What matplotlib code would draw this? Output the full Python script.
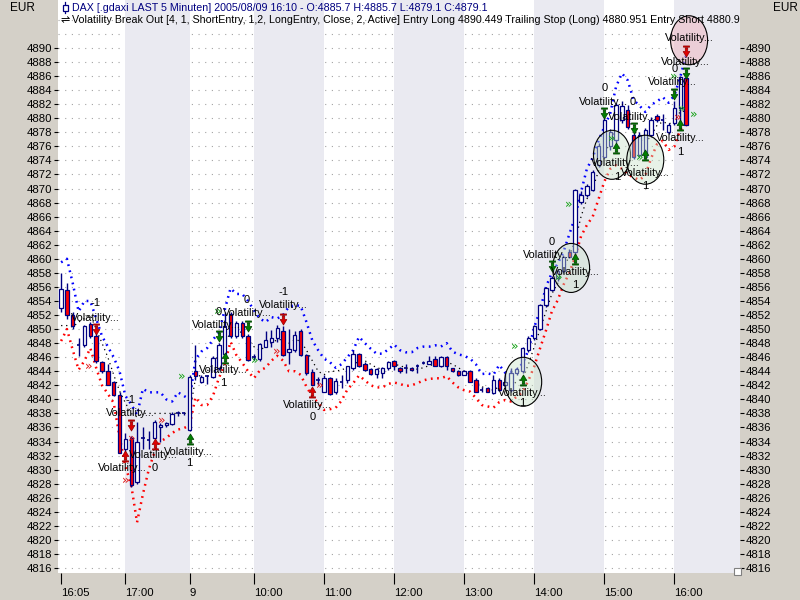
import matplotlib
matplotlib.use('Agg')
import matplotlib.pyplot as plt
from matplotlib.patches import Rectangle, Ellipse
from matplotlib.path import Path
import matplotlib.lines as mlines

plt.rcParams['font.family'] = ['Liberation Sans', 'DejaVu Sans']

# ---------------- data ----------------
time_labels = ['16:05', '17:00', '9', '10:00', '11:00', '12:00', '13:00', '14:00', '15:00', '16:00']
time_label_bars = [0, 11, 22, 33, 45, 57, 69, 81, 93, 105]

opens = [4853.0, 4855.6, 4852.0, 4847.8, 4847.8, 4850.7, 4849.0, 4845.3, 4844.0, 4842.4,
         4840.6, 4833.0, 4834.5, 4828.3, 4834.5, 4834.2, 4834.5, 4836.1, 4836.3, 4836.5,
         4838.0, 4838.0, 4835.7, 4844.0, 4842.5, 4843.3, 4843.2, 4844.4, 4846.5, 4852.2,
         4849.0, 4850.9, 4849.0, 4846.0, 4845.7, 4847.5, 4848.2, 4848.7, 4849.7, 4846.8,
         4847.0, 4849.7, 4846.3, 4843.9, 4842.8, 4841.1, 4843.0, 4841.0, 4842.5, 4842.8,
         4844.4, 4846.4, 4845.1, 4844.3, 4843.6, 4843.7, 4844.4, 4845.4, 4844.4, 4844.4,
         4844.4, 4844.7, 4845.2, 4845.0, 4845.7, 4844.8, 4846.0, 4844.4, 4844.0, 4843.5,
         4844.0, 4842.8, 4841.4, 4841.6, 4840.9, 4842.8, 4842.0, 4841.4, 4843.8, 4844.0,
         4847.0, 4848.7, 4850.0, 4853.4, 4855.6, 4857.2, 4858.2, 4861.0, 4861.0, 4868.1,
         4869.1, 4869.8, 4873.4, 4874.5, 4876.0, 4876.9, 4879.8, 4881.2, 4877.6, 4874.8,
         4874.5, 4877.6, 4880.3, 4879.8, 4878.1, 4879.3, 4881.5, 4885.7]
highs = [4858.0, 4856.5, 4852.5, 4848.7, 4850.6, 4851.0, 4849.5, 4845.5, 4845.0, 4842.6,
         4841.0, 4835.2, 4834.8, 4836.8, 4836.0, 4835.5, 4837.0, 4836.6, 4836.8, 4838.2,
         4838.3, 4838.2, 4843.4, 4847.8, 4843.5, 4843.4, 4846.2, 4848.0, 4852.5, 4852.4,
         4851.2, 4851.2, 4849.3, 4846.4, 4848.0, 4849.7, 4849.8, 4850.6, 4850.4, 4850.0,
         4849.7, 4850.0, 4846.5, 4844.3, 4843.2, 4843.5, 4843.2, 4843.0, 4843.5, 4844.8,
         4847.0, 4846.6, 4845.3, 4844.5, 4844.5, 4844.6, 4845.5, 4845.6, 4844.6, 4845.1,
         4844.6, 4845.1, 4845.5, 4846.1, 4846.1, 4846.2, 4846.2, 4844.5, 4844.2, 4844.2,
         4844.2, 4843.0, 4841.8, 4841.8, 4843.4, 4843.0, 4843.8, 4844.5, 4844.6, 4847.5,
         4849.0, 4850.6, 4853.6, 4856.0, 4857.5, 4858.5, 4860.6, 4861.4, 4870.0, 4869.6,
         4870.6, 4872.6, 4876.5, 4880.0, 4878.5, 4882.2, 4882.5, 4881.9, 4878.2, 4878.0,
         4878.6, 4880.2, 4880.6, 4880.6, 4879.3, 4882.5, 4886.0, 4885.7]
lows = [4852.5, 4851.5, 4850.0, 4846.1, 4847.5, 4848.8, 4845.2, 4843.8, 4842.0, 4840.5,
        4832.3, 4832.5, 4827.5, 4828.0, 4833.0, 4833.0, 4834.3, 4834.0, 4836.0, 4836.3,
        4837.7, 4837.8, 4835.5, 4842.8, 4842.3, 4842.2, 4843.0, 4844.2, 4846.0, 4848.8,
        4848.8, 4848.8, 4845.4, 4845.6, 4845.5, 4847.4, 4847.5, 4848.2, 4846.1, 4845.0,
        4846.8, 4846.1, 4843.5, 4842.0, 4842.0, 4841.0, 4840.6, 4840.8, 4841.6, 4842.3,
        4844.2, 4844.6, 4844.1, 4843.5, 4843.0, 4843.1, 4844.2, 4844.2, 4843.8, 4843.7,
        4844.0, 4843.7, 4845.0, 4845.0, 4844.7, 4844.6, 4844.2, 4843.9, 4843.3, 4843.4,
        4842.4, 4841.1, 4841.0, 4841.0, 4840.7, 4841.2, 4841.5, 4841.0, 4843.5, 4843.8,
        4846.8, 4848.5, 4849.8, 4853.2, 4855.4, 4856.8, 4858.0, 4860.1, 4860.6, 4867.8,
        4868.8, 4869.6, 4873.0, 4874.3, 4875.5, 4876.5, 4879.3, 4878.5, 4874.2, 4874.5,
        4874.2, 4877.3, 4879.5, 4878.3, 4877.8, 4879.0, 4879.0, 4879.1]
closes = [4855.7, 4852.0, 4850.4, 4847.9, 4850.4, 4849.0, 4845.4, 4844.0, 4842.1, 4840.6,
          4832.3, 4834.3, 4827.8, 4834.0, 4834.6, 4834.1, 4836.8, 4836.4, 4836.7, 4837.9,
          4838.0, 4837.9, 4843.2, 4843.3, 4843.2, 4843.3, 4845.9, 4847.8, 4850.5, 4849.0,
          4850.9, 4849.0, 4845.6, 4846.0, 4847.9, 4848.5, 4848.7, 4850.1, 4846.3, 4847.2,
          4849.2, 4846.3, 4843.7, 4842.1, 4842.8, 4843.0, 4840.8, 4842.6, 4842.6, 4844.7,
          4846.4, 4844.8, 4844.2, 4843.6, 4844.3, 4844.4, 4845.3, 4844.7, 4844.1, 4844.4,
          4844.2, 4844.7, 4845.2, 4845.5, 4844.8, 4846.0, 4844.7, 4844.0, 4843.5, 4844.1,
          4842.5, 4841.1, 4841.4, 4841.1, 4842.8, 4841.4, 4842.5, 4843.8, 4844.3, 4847.3,
          4848.7, 4850.4, 4853.4, 4855.8, 4857.2, 4858.2, 4860.3, 4860.3, 4869.8, 4869.1,
          4870.3, 4872.4, 4876.0, 4879.8, 4878.0, 4881.9, 4881.8, 4878.8, 4874.5, 4877.6,
          4878.3, 4879.8, 4879.8, 4879.9, 4879.0, 4881.5, 4885.9, 4879.1]

upper_band = [4859.5, 4860.0, 4856.5, 4852.5, 4854.0, 4854.0, 4851.5, 4849.0, 4847.5, 4846.0,
              4844.0, 4840.5, 4839.3, 4837.8, 4841.5, 4841.0, 4841.0, 4841.0, 4840.0, 4839.7,
              4841.0, 4840.5, 4840.0, 4845.7, 4846.8, 4847.3, 4848.5, 4849.5, 4852.7, 4855.8,
              4855.0, 4855.0, 4854.0, 4852.7, 4851.5, 4851.0, 4851.7, 4851.5, 4852.0, 4853.2,
              4853.4, 4853.3, 4851.0, 4848.4, 4847.0, 4845.8, 4845.3, 4844.5, 4845.0, 4846.0,
              4847.0, 4848.9, 4848.0, 4847.2, 4846.5, 4846.5, 4847.1, 4847.8, 4847.0, 4846.7,
              4846.7, 4847.3, 4847.5, 4847.5, 4847.7, 4847.5, 4848.0, 4846.8, 4846.4, 4846.2,
              4845.8, 4845.0, 4843.6, 4843.7, 4843.5, 4844.9, 4843.8, 4843.9, 4844.2, 4845.1,
              4847.0, 4850.3, 4852.7, 4856.0, 4858.0, 4859.3, 4861.0, 4863.5, 4866.0, 4869.5,
              4872.8, 4874.4, 4876.8, 4878.8, 4880.7, 4884.5, 4886.4, 4885.4, 4882.6, 4881.8,
              4880.9, 4881.9, 4882.4, 4883.0, 4882.2, 4883.3, 4885.9, 4889.0]
lower_band = [4848.3, 4850.0, 4847.0, 4844.2, 4845.5, 4847.3, 4844.5, 4842.0, 4840.8, 4839.5,
              4834.7, 4830.5, 4827.8, 4822.5, 4826.5, 4830.0, 4832.5, 4834.0, 4834.5, 4835.2,
              4835.7, 4835.9, 4836.3, 4840.3, 4839.2, 4839.2, 4840.5, 4843.0, 4845.0, 4848.2,
              4846.3, 4845.2, 4844.0, 4843.0, 4844.1, 4844.5, 4845.5, 4846.2, 4845.5, 4844.0,
              4844.0, 4843.5, 4841.8, 4840.4, 4839.5, 4838.5, 4838.6, 4838.8, 4839.8, 4841.4,
              4842.3, 4843.4, 4842.7, 4842.0, 4841.7, 4841.7, 4842.2, 4842.4, 4842.2, 4841.9,
              4842.0, 4842.3, 4842.7, 4842.9, 4843.0, 4843.0, 4843.3, 4842.4, 4841.7, 4841.3,
              4841.1, 4840.2, 4839.2, 4839.0, 4838.8, 4839.6, 4839.9, 4839.7, 4840.4, 4841.0,
              4842.7, 4844.7, 4847.3, 4849.8, 4852.5, 4854.1, 4856.3, 4858.0, 4860.3, 4863.2,
              4864.8, 4866.0, 4868.5, 4871.0, 4872.8, 4873.3, 4872.8, 4872.0, 4871.6, 4871.2,
              4871.9, 4874.3, 4876.3, 4876.8, 4875.5, 4876.0, 4878.4, 4879.0]
stop_line = [4850.5, 4850.5, 4850.3, 4851.0, 4851.5, 4852.0, 4850.0, 4848.0, 4846.0, 4843.5,
             4841.2, 4839.5, 4838.0, 4837.5, 4838.0, 4838.0, 4838.0, 4838.0, 4838.0, 4838.0,
             4838.0, 4838.0, 4838.0, 4843.0, 4843.5, 4844.0, 4845.0, 4846.5, 4848.0, 4849.5,
             4849.8, 4849.5, 4848.5, 4847.5, 4847.0, 4847.5, 4848.0, 4848.5, 4848.5, 4848.0,
             4848.5, 4848.3, 4847.0, 4845.5, 4844.0, 4843.5, 4844.0, 4844.0, 4844.2, 4844.5,
             4844.8, 4845.5, 4845.5, 4845.0, 4844.5, 4844.3, 4844.5, 4845.0, 4844.8, 4844.5,
             4844.3, 4844.3, 4844.5, 4844.8, 4845.0, 4845.2, 4845.3, 4845.0, 4844.5, 4844.0,
             4843.5, 4842.5, 4841.8, 4841.5, 4841.3, 4841.8, 4842.0, 4842.0, 4842.5, 4843.0,
             4845.0, 4847.5, 4850.0, 4852.5, 4855.0, 4856.5, 4858.5, 4860.5, 4862.5, 4866.0,
             4868.5, 4870.0, 4872.5, 4875.0, 4876.5, 4878.5, 4880.0, 4880.0, 4878.5, 4877.0,
             4876.5, 4877.5, 4879.0, 4879.5, 4879.2, 4879.5, 4881.0, 4881.0]

# signals (bar index, price)
short_entry_bars = [6, 12, 38, 107]
short_entry_prices = [4850.0, 4836.4, 4851.4, 4889.6]
short_exit_bars = [11, 16, 43]
short_exit_prices = [4832.0, 4833.6, 4841.0]
long_exit_bars = [27, 32, 84, 93, 98, 105, 107]
long_exit_prices = [4849.0, 4850.4, 4859.0, 4880.7, 4878.6, 4883.5, 4886.4]
long_entry_bars = [22, 28, 79, 88, 95, 100, 106]
long_entry_prices = [4834.4, 4845.9, 4842.8, 4860.0, 4875.8, 4874.8, 4879.0]
green_chev_bars = [20.7, 33.2, 26.8, 77.6, 86.9, 85.2, 94.3, 99.1, 104.9, 106.3, 108.3]
green_chev_prices = [4843.3, 4845.6, 4852.5, 4847.5, 4867.7, 4857.3, 4877.2, 4874.5, 4885.9, 4881.4, 4880.5]
red_chev_bars = [4.7, 17.2, 11.0, 36.9, 44.3, 105.6, 12.1]
red_chev_prices = [4844.7, 4837.0, 4828.5, 4846.8, 4842.0, 4880.2, 4834.5]

vol_label_bars = [5.82, 11.8, 15.75, 10.45, 21.75, 27.7, 26.5, 31.85, 38.0, 42.1, 78.9,
                  83.2, 88.0, 92.8, 97.8, 94.9, 100.0, 106.0, 104.6, 106.8, 107.5]
vol_label_prices = [4851.6, 4838.1, 4832.1, 4830.2, 4832.5, 4844.2, 4850.6, 4852.3, 4853.4, 4839.2, 4840.9,
                    4860.5, 4858.1, 4882.3, 4880.2, 4873.6, 4872.2, 4877.2, 4885.2, 4888.0, 4891.4]
num_label_texts = ['-1', '-1', '0', '1', '1', '0', '0', '-1', '0', '1', '0', '1', '0', '0', '1', '1', '1', '0']
num_label_bars = [5.82, 11.8, 16.1, 21.9, 27.7, 26.9, 31.85, 38.0, 43.0, 78.9, 83.9, 88.0, 93.0, 97.9,
                  95.2, 100.0, 106.0, 105.0]
num_label_prices = [4853.7, 4839.9, 4830.2, 4830.9, 4842.3, 4852.4, 4854.1, 4855.3, 4837.5, 4839.5,
                    4862.4, 4856.3, 4884.3, 4882.3, 4871.6, 4870.4, 4875.2, 4887.0]

circle_bars = [79.1, 87.3, 94.3, 100.0, 107.5]
circle_prices = [4842.5, 4858.7, 4874.8, 4874.1, 4891.1]
circle_kinds = ['long', 'long', 'long', 'long', 'short']

header1 = 'DAX [.gdaxi LAST 5 Minuten] 2005/08/09 16:10 - O:4885.7 H:4885.7 L:4879.1 C:4879.1'
header2 = ('Volatility Break Out [4, 1, ShortEntry, 1,2, LongEntry, Close, 2, Active] '
           'Entry Long 4890.449 Trailing Stop (Long) 4880.951 Entry Short 4880.95')

# ---------------- figure ----------------
W, H = 800, 600
fig = plt.figure(figsize=(8, 6), dpi=100, facecolor='#D4D0C8')
ax_left, ax_right, ax_top, ax_bottom = 57.6, 740.5, 0, 573
ax = fig.add_axes([ax_left / W, (H - ax_bottom) / H, (ax_right - ax_left) / W, (ax_bottom - ax_top) / H])
ax.set_facecolor('white')
xmin, xmax = -0.6, 116.3
ymin, ymax = 4815.29, 4896.83
ax.set_xlim(xmin, xmax)
ax.set_ylim(ymin, ymax)
for s in ax.spines.values():
    s.set_visible(False)

# grid
for y in range(4816, 4896, 2):
    ax.axhline(y, color='#A4A4A4', lw=0.8, ls=(0, (1, 5)), zorder=0.5)

# hour bands
edges = time_label_bars + [xmax]
for k in range(1, len(edges) - 1, 2):
    ax.axvspan(edges[k], edges[k + 1], color='#EAEAF1', lw=0, zorder=1)

# indicator lines
bars = list(range(len(closes)))
ax.plot(bars, upper_band, color='#0000FF', lw=1.8, ls=(0, (0.7, 1.8)), zorder=2.5)
ax.plot(bars, lower_band, color='#FF0000', lw=1.8, ls=(0, (0.7, 1.8)), zorder=2.5)
ax.plot(bars, stop_line, color='black', lw=0.9, ls=(0, (1, 3)), zorder=2.6)

# candles
navy = '#000080'
bw = 0.58
for i in bars:
    o, h, l, c = opens[i], highs[i], lows[i], closes[i]
    ax.vlines(i, l, h, color=navy, lw=1.0, zorder=3)
    if abs(c - o) < 0.15:
        ax.hlines(o, i - bw / 2, i + bw / 2, color=navy, lw=1.2, zorder=4)
    else:
        fc = 'white' if c > o else '#FF0000'
        ax.add_patch(Rectangle((i - bw / 2, min(o, c)), bw, abs(c - o), fc=fc, ec=navy, lw=0.9, zorder=4))

# circles (pixel size converted to data units)
px_per_bar = (ax_right - ax_left) / (xmax - xmin)
px_per_pt = (ax_bottom - ax_top) / (ymax - ymin)
for xb, yp, kind in zip(circle_bars, circle_prices, circle_kinds):
    fc = (0.78, 0.88, 0.78, 0.42) if kind == 'long' else (0.93, 0.72, 0.76, 0.55)
    ax.add_patch(Ellipse((xb, yp), 37 / px_per_bar, 49 / px_per_pt, fc=fc, ec='black', lw=0.8, zorder=5))

# arrow markers
def arrow_path(up):
    s = 1 if up else -1
    verts = [(-0.55, -s * 1.0), (0.55, -s * 1.0), (0.55, -s * 0.78), (-0.55, -s * 0.78), (-0.55, -s * 1.0),
             (-0.22, -s * 0.62), (0.22, -s * 0.62), (0.22, s * 0.0), (0.6, s * 0.0), (0.0, s * 1.0),
             (-0.6, s * 0.0), (-0.22, s * 0.0), (-0.22, -s * 0.62)]
    codes = [Path.MOVETO, Path.LINETO, Path.LINETO, Path.LINETO, Path.CLOSEPOLY,
             Path.MOVETO, Path.LINETO, Path.LINETO, Path.LINETO, Path.LINETO,
             Path.LINETO, Path.LINETO, Path.CLOSEPOLY]
    return Path(verts, codes)

up_m = arrow_path(True)
dn_m = arrow_path(False)
ax.plot(short_entry_bars, short_entry_prices, ls='none', marker=dn_m, ms=8, mfc='#E00000', mec='#900000', mew=0.5, zorder=6)
ax.plot(short_exit_bars, short_exit_prices, ls='none', marker=up_m, ms=8, mfc='#E00000', mec='#900000', mew=0.5, zorder=6)
ax.plot(long_exit_bars, long_exit_prices, ls='none', marker=dn_m, ms=8, mfc='#008000', mec='#004000', mew=0.5, zorder=6)
ax.plot(long_entry_bars, long_entry_prices, ls='none', marker=up_m, ms=8, mfc='#008000', mec='#004000', mew=0.5, zorder=6)

for xb, yp in zip(green_chev_bars, green_chev_prices):
    ax.text(xb, yp, '»', color='#10A010', fontsize=9, ha='center', va='center', zorder=6, family='DejaVu Sans')
for xb, yp in zip(red_chev_bars, red_chev_prices):
    ax.text(xb, yp, '»', color='#E01010', fontsize=9, ha='center', va='center', zorder=6, family='DejaVu Sans')

for xb, yp in zip(vol_label_bars, vol_label_prices):
    ax.text(xb, yp, 'Volatility...', fontsize=7.8, ha='center', va='center', color='black', zorder=8)
for t, xb, yp in zip(num_label_texts, num_label_bars, num_label_prices):
    ax.text(xb, yp, t, fontsize=8, ha='center', va='center', color='black', zorder=8)

# ticks
yt = list(range(4816, 4891, 2))
ax.set_yticks(yt)
ax.set_yticklabels([str(v) for v in yt])
ax.tick_params(axis='y', which='both', left=True, right=True, labelleft=True, labelright=True,
               direction='out', length=3, width=0.8, pad=1, labelsize=8.2, colors='black')
ax.set_xticks(time_label_bars)
ax.set_xticklabels(time_labels)
ax.tick_params(axis='x', direction='out', length=8, width=0.8, pad=3, labelsize=8.2)
for lab in ax.get_xticklabels():
    lab.set_horizontalalignment('left')

# header text inside plot area (clipped)
def fx(px):
    return (px - ax_left) / (ax_right - ax_left)
def fy(py):
    return 1 - (py - ax_top) / (ax_bottom - ax_top)

ax.text(fx(72), fy(8), header1, transform=ax.transAxes, fontsize=7.7, color='#000080',
        ha='left', va='center', clip_on=True, zorder=9)
ax.text(fx(72), fy(20), header2, transform=ax.transAxes, fontsize=7.7, color='black',
        ha='left', va='center', clip_on=True, zorder=9)
ax.text(fx(60), fy(20.5), '⇌', transform=ax.transAxes, fontsize=8, color='black',
        ha='left', va='center', family='DejaVu Sans', zorder=9)
# small candle icon before header line 1
ax.add_line(mlines.Line2D([fx(65), fx(65)], [fy(2), fy(13)], transform=ax.transAxes, color='#000080', lw=0.9, zorder=9))
ax.add_patch(Rectangle((fx(62.5), fy(10.5)), fx(67.5) - fx(62.5), fy(5) - fy(10.5), transform=ax.transAxes,
                       fc='white', ec='#000080', lw=0.9, zorder=9))

fig.text(10 / W, 1 - 8 / H, 'EUR', fontsize=8.5, ha='left', va='center')
fig.text(773 / W, 1 - 8 / H, 'EUR', fontsize=8.5, ha='left', va='center')
# tiny corner box
fig.add_artist(Rectangle((734 / W, 1 - 575 / H), 7 / W, 7 / H, transform=fig.transFigure,
                         fc='white', ec='#808080', lw=0.8))

fig.savefig('out.png', dpi=100, facecolor=fig.get_facecolor())
